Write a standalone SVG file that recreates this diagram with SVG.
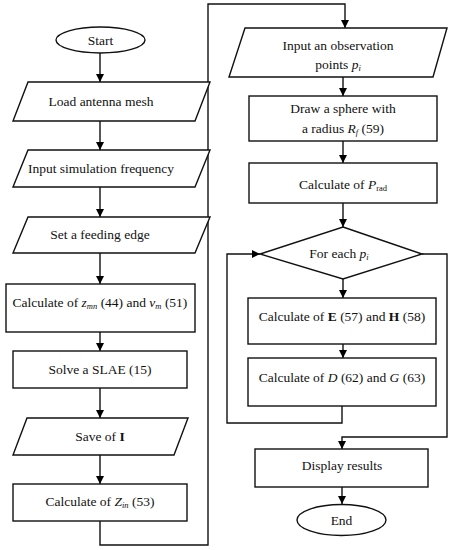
<svg xmlns="http://www.w3.org/2000/svg" width="450" height="550" viewBox="0 0 450 550" font-family="'Liberation Serif', 'DejaVu Serif', serif">
<defs>
<marker id="arr" markerUnits="userSpaceOnUse" markerWidth="8" markerHeight="10" refX="8" refY="4" orient="auto">
<path d="M0,0 L8,4 L0,8 Z" fill="#000"/>
</marker>
<style>
.s{fill:#fff;stroke:#111;stroke-width:1.4}
.c{fill:none;stroke:#111;stroke-width:1.4}
.a{marker-end:url(#arr)}
text{font-family:'Liberation Serif','DejaVu Serif',serif;font-size:13.5px;fill:#111;text-anchor:middle}
.i{font-style:italic}
.b{font-weight:bold}
.sub{font-size:8.5px}
</style>
</defs>
<rect width="450" height="550" fill="#fff"/>
<g id="connectors">
<line class="c a" x1="100" y1="53" x2="100" y2="82"/>
<line class="c a" x1="100" y1="121" x2="100" y2="150"/>
<line class="c a" x1="100" y1="187" x2="100" y2="217"/>
<line class="c a" x1="100" y1="253" x2="100" y2="284"/>
<line class="c a" x1="100" y1="332" x2="100" y2="351"/>
<line class="c a" x1="100" y1="388" x2="100" y2="418"/>
<line class="c a" x1="100" y1="455" x2="100" y2="484"/>
<polyline class="c a" points="100,521 100,545 208,545 208,4 345,4 345,28"/>
<line class="c a" x1="343" y1="77" x2="343" y2="96"/>
<line class="c a" x1="343" y1="141" x2="343" y2="163"/>
<line class="c a" x1="343" y1="203" x2="343" y2="227"/>
<line class="c a" x1="343" y1="279" x2="343" y2="298"/>
<line class="c a" x1="343" y1="344" x2="343" y2="358"/>
<polyline class="c a" points="342,406 342,423 227,423 227,254 260,254"/>
<polyline class="c a" points="422,254 447,254 447,437 342,437 342,449"/>
<line class="c a" x1="342" y1="487" x2="342" y2="504"/>
</g>
<g id="start">
<ellipse class="s" cx="100.5" cy="40" rx="44.5" ry="13"/>
<text x="100.5" y="44.5">Start</text>
</g>
<g id="load">
<polygon class="s" points="28,82 210,82 195,121 13,121"/>
<text x="101" y="106">Load antenna mesh</text>
</g>
<g id="freq">
<polygon class="s" points="28,150 210,150 195,187 13,187"/>
<text x="101" y="173">Input simulation frequency</text>
</g>
<g id="feed">
<polygon class="s" points="28,217 210,217 195,253 13,253"/>
<text x="100" y="239">Set a feeding edge</text>
</g>
<g id="zmn">
<rect class="s" x="6" y="284" width="189" height="48"/>
<text x="100" y="307">Calculate of <tspan class="i">z</tspan><tspan class="i sub" dy="2">mn</tspan><tspan dy="-2"> (44) and </tspan><tspan class="i">v</tspan><tspan class="i sub" dy="2">m</tspan><tspan dy="-2"> (51)</tspan></text>
</g>
<g id="slae">
<rect class="s" x="13" y="351" width="174" height="37"/>
<text x="100" y="374">Solve a SLAE (15)</text>
</g>
<g id="save">
<polygon class="s" points="27,418 188,418 174,455 13,455"/>
<text x="100" y="441">Save of <tspan class="b">I</tspan></text>
</g>
<g id="zin">
<rect class="s" x="13" y="484" width="174" height="37"/>
<text x="100" y="506">Calculate of <tspan class="i">Z</tspan><tspan class="i sub" dy="2">in</tspan><tspan dy="-2"> (53)</tspan></text>
</g>
<g id="obs">
<polygon class="s" points="245,28 447,28 433,77 229,77"/>
<text x="338" y="50">Input an observation</text>
<text x="338" y="69">points <tspan class="i">p</tspan><tspan class="i sub" dy="2">i</tspan></text>
</g>
<g id="sphere">
<rect class="s" x="249" y="96" width="188" height="45"/>
<text x="343" y="113">Draw a sphere with</text>
<text x="343" y="133">a radius <tspan class="i">R</tspan><tspan class="i sub" dy="2">f</tspan><tspan dy="-2"> (59)</tspan></text>
</g>
<g id="prad">
<rect class="s" x="249" y="163" width="188" height="40"/>
<text x="343" y="189">Calculate of <tspan class="i">P</tspan><tspan class="sub" dy="2">rad</tspan></text>
</g>
<g id="foreach">
<polygon class="s" points="343,227 422,254 343,279 260,254"/>
<text x="339" y="258">For each <tspan class="i">p</tspan><tspan class="i sub" dy="2">i</tspan></text>
</g>
<g id="eh">
<rect class="s" x="248" y="298" width="188" height="46"/>
<text x="342" y="321">Calculate of <tspan class="b">E</tspan> (57) and <tspan class="b">H</tspan> (58)</text>
</g>
<g id="dg">
<rect class="s" x="248" y="358" width="188" height="48"/>
<text x="342" y="382">Calculate of <tspan class="i">D</tspan> (62) and <tspan class="i">G</tspan> (63)</text>
</g>
<g id="display">
<rect class="s" x="255" y="449" width="173" height="38"/>
<text x="342" y="470">Display results</text>
</g>
<g id="end">
<ellipse class="s" cx="341.5" cy="520" rx="44.5" ry="15.5"/>
<text x="341.5" y="524.5">End</text>
</g>
</svg>
